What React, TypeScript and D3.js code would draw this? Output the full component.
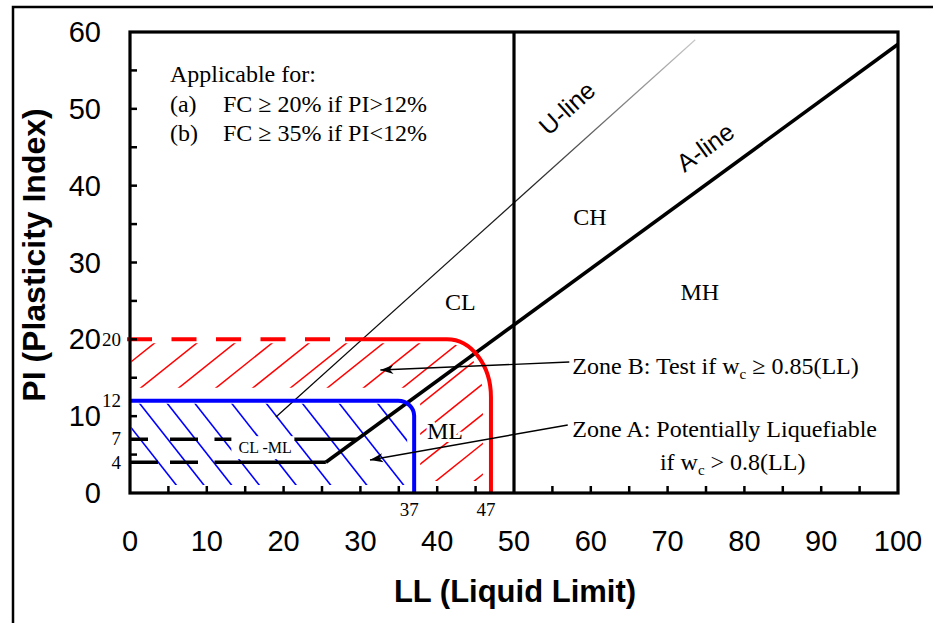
import React from 'react';
import * as d3 from 'd3';

const W = 933;
const H = 623;

// axes
const llTicks = [0, 10, 20, 30, 40, 50, 60, 70, 80, 90, 100];
const piTicks = [0, 10, 20, 30, 40, 50, 60];
const llMinor = [5, 10, 15, 20, 25, 30, 35, 40, 45, 55, 60, 65, 70, 75, 80, 85, 90, 95];
const piMinor = [5, 10, 15, 20, 25, 30, 35, 40, 45, 50, 55];

// chart lines, [LL, PI]
const aLine: [number, number][] = [[25.5, 4], [100, 58.4]];
const uLine: [number, number][] = [[19, 9.9], [73.6, 59]];
const llBoundary = 50;
const clmlLines = [
  { pi: 7, dashTo: 11, to: 29.6, dash: '18 22 28 100' },
  { pi: 4, dashTo: 11, to: 25.5, dash: '28 12 28 100' },
];
const zoneA = { ll: 37, pi: 12 };
const zoneB = { ll: 47, pi: 20, dashTo: 28 };

// hatch offsets (LL where each stroke crosses the reference PI)
const redHatchLL = [-4.2, 1.3, 6.25, 11.1, 15.9, 20.8, 25.6, 30.3, 35.4, 40.4, 45.2, 50.1, 54.9, 59.9];
const redHatchPI = 13.6;
const blueHatchLL = [-2.3, 1.3, 4.9, 8.5, 13.3, 17.8, 22.5, 27.3, 32.3];
const blueHatchPI = 11.6;

// labels
const sideLabels = [20, 12, 7, 4];
const bottomLabels = [37, 47];
const regionLabels = [
  { t: 'CL', ll: 43, pi: 23.8 },
  { t: 'CH', ll: 59.9, pi: 34.9 },
  { t: 'MH', ll: 74.2, pi: 25.1 },
];

const serif = "'Liberation Serif', 'Times New Roman', serif";
const sans = "'Liberation Sans', Arial, sans-serif";

export default function App() {
  const x = d3.scaleLinear().domain([0, 100]).range([130, 898]);
  const y = d3.scaleLinear().domain([0, 60]).range([493, 32]);
  const line = d3.line<[number, number]>().x(d => x(d[0])).y(d => y(d[1]));

  // red zone outline
  const rRx = 44, rRy = 58;
  const redSolid = `M${x(zoneB.dashTo)},${y(zoneB.pi)} H${x(zoneB.ll) - rRx} A${rRx} ${rRy} 0 0 1 ${x(zoneB.ll)} ${y(zoneB.pi) + rRy} V${y(0)}`;
  const bRx = 16, bRy = 15;
  const blueOutline = `M${x(0)},${y(zoneA.pi)} H${x(zoneA.ll) - bRx} A${bRx} ${bRy} 0 0 1 ${x(zoneA.ll)} ${y(zoneA.pi) + bRy} V${y(0)}`;

  // hatch clip regions
  const rTop = y(zoneB.pi) + 4, rRight = x(zoneB.ll) - 8, rBot = y(0) - 12;
  const hx = x(zoneB.ll) - rRx, vy = y(zoneB.pi) + rRy;
  const redClip = `M${x(0) + 1.5},${rTop} H${hx} A${rRight - hx} ${vy - rTop} 0 0 1 ${rRight} ${vy} V${rBot} H${x(zoneA.ll) + 6} V${y(zoneA.pi) - 13} H${x(0) + 1.5} Z`;
  const bTop = y(zoneA.pi) + 3, bRight = x(zoneA.ll) - 7;
  const blueClip = `M${x(0) + 1.5},${bTop} H${bRight - 14} A14 13 0 0 1 ${bRight} ${bTop + 13} V${y(0) - 8} H${x(0) + 1.5} Z`;

  const uGradStart = [x(uLine[0][0]), y(uLine[0][1])];
  const uGradEnd = [x(uLine[1][0]), y(uLine[1][1])];

  return (
    <svg width={W} height={H} style={{ position: 'absolute', left: 0, top: 0, display: 'block', background: '#fff' }}>
      <defs>
        <clipPath id="redClip"><path d={redClip} /></clipPath>
        <clipPath id="blueClip"><path d={blueClip} /></clipPath>
        <linearGradient id="uGrad" gradientUnits="userSpaceOnUse" x1={uGradStart[0]} y1={uGradStart[1]} x2={uGradEnd[0]} y2={uGradEnd[1]}>
          <stop offset="0" stopColor="#000" />
          <stop offset="0.6" stopColor="#222" />
          <stop offset="1" stopColor="#c8c8c8" />
        </linearGradient>
        <marker id="arr" viewBox="0 0 13 10" refX="0" refY="5" markerWidth="13" markerHeight="10" orient="auto" markerUnits="userSpaceOnUse">
          <path d="M0,5 L13,0.5 L9.5,5 L13,9.5 Z" fill="#000" />
        </marker>
      </defs>
      <rect width={W} height={H} fill="#fff" />

      {/* outer frame */}
      <path d={`M13,${H} V7 H${W}`} fill="none" stroke="#000" strokeWidth={2.5} />

      {/* red hatch */}
      <g clipPath="url(#redClip)" stroke="#ff0000" strokeWidth={1.5}>
        {redHatchLL.map((v, i) => {
          const x0 = x(v), y0 = y(redHatchPI);
          return <line key={i} x1={x0 - 200} y1={y0 + 200 * 0.8} x2={x0 + 200} y2={y0 - 200 * 0.8} />;
        })}
      </g>
      {/* gap around A-line */}
      <path d={line(aLine) || ''} stroke="#fff" strokeWidth={10} fill="none" />

      {/* blue hatch */}
      <g clipPath="url(#blueClip)" stroke="#0000ff" strokeWidth={1.6}>
        {blueHatchLL.map((v, i) => {
          const x0 = x(v), y0 = y(blueHatchPI);
          return <line key={i} x1={x0 - 100} y1={y0 - 127} x2={x0 + 100} y2={y0 + 127} />;
        })}
      </g>

      {/* U-line */}
      <path d={line(uLine) || ''} stroke="url(#uGrad)" strokeWidth={1.2} fill="none" />

      {/* CL-ML lines */}
      {clmlLines.map((l, i) => (
        <g key={i} stroke="#000" strokeWidth={3.6} fill="none">
          <line x1={x(0)} y1={y(l.pi)} x2={x(l.dashTo)} y2={y(l.pi)} strokeDasharray={l.dash} />
          <line x1={x(l.dashTo)} y1={y(l.pi)} x2={x(l.to)} y2={y(l.pi)} />
        </g>
      ))}

      {/* A-line */}
      <path d={line(aLine) || ''} stroke="#000" strokeWidth={3.6} fill="none" />

      {/* LL = 50 */}
      <line x1={x(llBoundary)} y1={y(0)} x2={x(llBoundary)} y2={y(60)} stroke="#000" strokeWidth={3.2} />

      {/* zone B boundary */}
      <line x1={x(0) - 3} y1={y(zoneB.pi)} x2={x(zoneB.dashTo)} y2={y(zoneB.pi)} stroke="#ff0000" strokeWidth={4} strokeDasharray="25 19.5" />
      <path d={redSolid} stroke="#ff0000" strokeWidth={4} fill="none" />

      {/* zone A boundary */}
      <path d={blueOutline} stroke="#0000ff" strokeWidth={4} fill="none" />

      {/* CL-ML label */}
      <rect x={x(13.2)} y={y(7.4)} width={63} height={23} fill="#fff" />
      <text x={x(17.6)} y={y(5.2)} fontFamily={serif} fontSize={16} textAnchor="middle">CL -ML</text>

      {/* plot frame */}
      <rect x={x(0)} y={y(60)} width={x(100) - x(0)} height={y(0) - y(60)} fill="none" stroke="#000" strokeWidth={3.2} />
      <g stroke="#000" strokeWidth={2.5}>
        {llMinor.map(v => <line key={'lx' + v} x1={x(v)} y1={y(0)} x2={x(v)} y2={y(0) - 7} />)}
        {piMinor.map(v => <line key={'py' + v} x1={x(0)} y1={y(v)} x2={x(0) + 7} y2={y(v)} />)}
      </g>

      {/* tick labels */}
      <g fontFamily={sans} fontSize={29} fill="#000">
        {llTicks.map(v => <text key={'tx' + v} x={x(v)} y={551} textAnchor="middle">{v}</text>)}
        {piTicks.map(v => <text key={'ty' + v} x={101} y={y(v)} dy="0.35em" textAnchor="end">{v}</text>)}
      </g>
      <g fontFamily={serif} fontSize={19} fill="#000">
        {sideLabels.map(v => <text key={'s' + v} x={121} y={y(v)} dy="0.33em" textAnchor="end">{v}</text>)}
        {bottomLabels.map(v => <text key={'b' + v} x={x(v) - 5} y={516} textAnchor="middle">{v}</text>)}
      </g>

      {/* axis titles */}
      <text x={515} y={602} fontFamily={sans} fontSize={31} fontWeight="bold" textAnchor="middle">LL (Liquid Limit)</text>
      <text transform="translate(45,255) rotate(-90)" fontFamily={sans} fontSize={32} fontWeight="bold" textAnchor="middle">PI (Plasticity Index)</text>

      {/* line labels */}
      <text transform={`translate(${x(56.9)},${y(50.1)}) rotate(-42)`} fontFamily={sans} fontSize={25} textAnchor="middle" dy="0.35em">U-line</text>
      <text transform={`translate(${x(74.9)},${y(45)}) rotate(-36)`} fontFamily={sans} fontSize={25} textAnchor="middle" dy="0.35em">A-line</text>

      {/* region labels */}
      <g fontFamily={serif} fontSize={24} fill="#000">
        {regionLabels.map(r => <text key={r.t} x={x(r.ll)} y={y(r.pi)} textAnchor="middle">{r.t}</text>)}
        <text x={x(41)} y={y(7)} textAnchor="middle" stroke="#fff" strokeWidth={6} paintOrder="stroke" strokeLinejoin="round">ML</text>
      </g>

      {/* applicability note */}
      <g fontFamily={serif} fontSize={24} fill="#000">
        <text x={x(5.2)} y={y(53.5)}>Applicable for:</text>
        <text x={x(5.2)} y={y(49.6)}>(a)</text>
        <text x={x(12.1)} y={y(49.6)}>FC ≥ 20% if PI&gt;12%</text>
        <text x={x(5.2)} y={y(45.8)}>(b)</text>
        <text x={x(12.1)} y={y(45.8)}>FC ≥ 35% if PI&lt;12%</text>
      </g>

      {/* zone annotations */}
      <g stroke="#000" strokeWidth={1.4} fill="none">
        <line x1={x(32.6)} y1={y(16)} x2={x(57.2)} y2={y(17.05)} markerStart="url(#arr)" />
        <line x1={x(31.25)} y1={y(4.3)} x2={x(57.0)} y2={y(8.85)} markerStart="url(#arr)" />
      </g>
      <g fontFamily={serif} fontSize={24} fill="#000">
        <text x={x(57.6)} y={y(15.5)}>Zone B: Test if w<tspan fontSize={15} dy={5}>c</tspan><tspan dy={-5}>{' ≥ 0.85(LL)'}</tspan></text>
        <text x={x(57.6)} y={y(7.3)}>Zone A: Potentially Liquefiable</text>
        <text x={x(69)} y={y(3)}>if w<tspan fontSize={15} dy={5}>c</tspan><tspan dy={-5}>{' > 0.8(LL)'}</tspan></text>
      </g>
    </svg>
  );
}
